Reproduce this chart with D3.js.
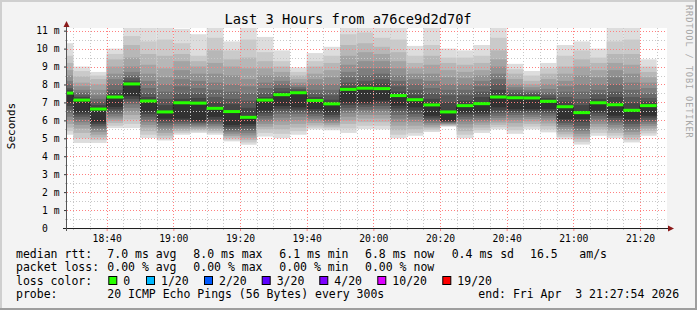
<!DOCTYPE html>
<html><head><meta charset="utf-8">
<script src="https://cdn.jsdelivr.net/npm/d3@7"></script>
<style>
body{margin:0;background:#f3f3f3;}
svg text{font-family:"DejaVu Sans Mono",monospace;white-space:pre;}
</style></head>
<body><svg id="c" width="697" height="310"></svg>
<script>
// ---- data ----
const stepEnds = ["18:30","18:35","18:40","18:45","18:50","18:55","19:00","19:05","19:10","19:15","19:20","19:25",
  "19:30","19:35","19:40","19:45","19:50","19:55","20:00","20:05","20:10","20:15","20:20","20:25",
  "20:30","20:35","20:40","20:45","20:50","20:55","21:00","21:05","21:10","21:15","21:20","21:25"];
const medians = [7.52,7.13,6.63,7.30,8.03,7.08,6.47,6.98,6.96,6.67,6.49,6.17,7.13,7.43,7.54,7.11,6.92,7.73,
  7.79,7.77,7.38,7.15,6.86,6.47,6.82,6.93,7.30,7.26,7.25,7.06,6.76,6.43,6.98,6.87,6.56,6.82];
// 20 sorted ping rtts (ms) per 5-minute step
const pings = [
 [5.2,5.4,5.6,5.8,6.0,6.2,6.4,6.6,6.8,7.0,7.52,7.7,7.8,8.0,8.2,8.5,8.8,9.2,9.6,10.3],
 [4.74,5.0,5.3,5.55,5.75,5.9,6.05,6.2,6.33,6.45,7.13,7.3,7.4,7.55,7.7,7.9,8.1,8.45,8.75,9.0],
 [4.74,4.9,5.05,5.2,5.35,5.5,5.6,5.7,5.8,5.9,6.63,6.85,7.0,7.2,7.4,7.7,8.0,8.3,8.5,8.7],
 [5.57,5.7,5.85,5.98,6.1,6.22,6.35,6.48,6.62,6.75,7.30,7.5,7.7,8.0,8.3,8.6,9.0,9.4,9.7,10.0],
 [5.57,5.8,6.05,6.3,6.5,6.7,6.9,7.05,7.2,7.35,8.03,8.2,8.35,8.5,8.7,9.0,9.5,10.2,10.7,11.5],
 [5.02,5.2,5.4,5.6,5.75,5.9,6.05,6.2,6.35,6.5,7.08,7.3,7.5,7.8,8.2,8.6,9.1,9.7,10.4,11.5],
 [4.88,5.0,5.15,5.3,5.45,5.6,5.72,5.85,5.98,6.1,6.47,6.85,7.2,7.6,8.0,8.4,8.9,9.6,10.5,11.5],
 [5.2,5.3,5.4,5.5,5.6,5.7,5.8,5.9,6.0,6.1,6.98,7.2,7.5,7.9,8.3,8.8,9.3,9.7,10.3,11.1],
 [5.3,5.38,5.46,5.54,5.62,5.7,5.78,5.86,5.93,6.0,6.96,7.25,7.5,7.8,8.2,8.6,9.0,9.3,9.6,10.8],
 [5.2,5.3,5.4,5.5,5.6,5.7,5.8,5.9,6.05,6.2,6.67,7.0,7.3,7.7,8.1,8.6,9.2,9.9,10.6,11.4],
 [4.83,4.93,5.03,5.13,5.23,5.33,5.43,5.53,5.64,5.75,6.49,6.9,7.2,7.6,8.0,8.5,9.0,9.4,9.9,10.4],
 [4.64,4.77,4.9,5.03,5.16,5.29,5.42,5.55,5.68,5.8,6.17,6.7,7.1,7.5,7.9,8.3,8.9,9.5,10.5,11.4],
 [5.1,5.3,5.5,5.65,5.8,5.95,6.1,6.25,6.4,6.55,7.13,7.3,7.5,7.8,8.1,8.5,8.9,9.3,9.8,10.65],
 [5.0,5.25,5.5,5.75,5.95,6.15,6.35,6.5,6.65,6.8,7.43,7.6,7.8,8.0,8.2,8.45,8.7,9.0,9.3,9.9],
 [5.2,5.4,5.6,5.8,6.0,6.2,6.35,6.48,6.6,6.73,7.54,7.65,7.75,7.85,7.95,8.1,8.3,8.5,8.7,8.95],
 [5.5,5.6,5.72,5.85,5.98,6.1,6.23,6.36,6.5,6.63,7.11,7.3,7.45,7.7,8.0,8.3,8.6,9.0,9.3,9.75],
 [5.45,5.55,5.65,5.75,5.85,5.95,6.05,6.17,6.3,6.45,6.92,7.15,7.4,7.7,8.0,8.4,8.8,9.2,9.6,10.1],
 [5.3,5.55,5.8,6.0,6.2,6.4,6.55,6.7,6.85,7.0,7.73,7.9,8.1,8.4,8.7,9.1,9.6,10.2,10.8,11.5],
 [5.52,5.7,5.9,6.1,6.3,6.45,6.6,6.75,6.88,7.0,7.79,8.0,8.2,8.5,8.9,9.3,9.8,10.3,10.9,11.5],
 [5.5,5.7,5.9,6.1,6.3,6.5,6.65,6.8,6.95,7.1,7.77,8.05,8.3,8.6,8.9,9.3,9.7,10.1,10.6,11.3],
 [5.0,5.2,5.45,5.7,5.9,6.1,6.3,6.5,6.66,6.82,7.38,7.6,7.9,8.2,8.5,8.9,9.3,9.8,10.5,11.4],
 [5.14,5.3,5.5,5.7,5.9,6.05,6.2,6.35,6.55,6.73,7.15,7.4,7.7,8.0,8.3,8.6,8.9,9.2,9.6,10.15],
 [5.35,5.45,5.55,5.65,5.75,5.85,5.95,6.05,6.15,6.26,6.86,7.2,7.5,7.8,8.2,8.6,9.1,9.6,10.2,11.3],
 [5.65,5.68,5.72,5.76,5.8,5.84,5.88,5.91,5.95,5.98,6.47,7.0,7.4,7.7,8.0,8.4,8.8,9.2,9.5,10.0],
 [5.0,5.2,5.4,5.6,5.78,5.94,6.08,6.2,6.33,6.45,6.82,7.1,7.4,7.7,8.0,8.35,8.7,9.1,9.5,9.9],
 [5.3,5.45,5.6,5.75,5.88,6.0,6.12,6.23,6.34,6.45,6.93,7.3,7.6,7.9,8.2,8.5,8.8,9.2,9.6,10.2],
 [5.5,5.62,5.75,5.88,6.0,6.13,6.26,6.4,6.56,6.73,7.30,7.7,8.0,8.3,8.6,9.0,9.4,9.9,10.6,11.5],
 [5.25,5.45,5.65,5.85,6.0,6.15,6.3,6.42,6.52,6.63,7.26,7.42,7.55,7.7,7.85,8.0,8.3,8.6,8.85,9.15],
 [5.5,5.65,5.8,5.95,6.08,6.2,6.32,6.43,6.53,6.63,7.25,7.4,7.5,7.6,7.7,7.85,8.0,8.2,8.5,8.75],
 [5.33,5.5,5.67,5.83,5.98,6.12,6.26,6.39,6.51,6.63,7.06,7.25,7.4,7.55,7.75,8.0,8.3,8.6,8.9,9.2],
 [4.94,5.08,5.22,5.36,5.5,5.63,5.75,5.86,5.97,6.08,6.76,7.05,7.3,7.6,7.9,8.2,8.6,9.0,9.6,10.2],
 [4.65,4.8,4.95,5.1,5.25,5.4,5.55,5.7,5.9,6.08,6.43,6.85,7.2,7.6,8.0,8.5,9.0,9.4,9.9,10.4],
 [5.14,5.3,5.48,5.65,5.8,5.95,6.1,6.25,6.4,6.54,6.98,7.2,7.45,7.7,8.0,8.4,8.8,9.2,9.5,10.0],
 [5.0,5.15,5.3,5.45,5.6,5.75,5.88,6.0,6.13,6.26,6.87,7.3,7.6,8.0,8.4,8.8,9.2,9.7,10.4,11.4],
 [4.77,4.9,5.05,5.2,5.35,5.5,5.65,5.8,5.94,6.08,6.56,6.95,7.3,7.7,8.1,8.6,9.1,9.7,10.5,11.4],
 [5.14,5.28,5.42,5.55,5.68,5.8,5.92,6.03,6.15,6.26,6.82,7.05,7.25,7.5,7.8,8.1,8.4,8.7,9.0,9.4]
];
const xTickLabels = ["18:40","19:00","19:20","19:40","20:00","20:20","20:40","21:00","21:20"];
const yTickValues = [0,1,2,3,4,5,6,7,8,9,10,11];
const smokeShades = ["#dddddd","#cacaca","#b7b7b7","#a4a4a4","#919191","#7e7e7e","#6b6b6b","#585858","#454545","#323232"];
const rttLegend = ["7.0 ms avg","8.0 ms max","6.1 ms min","6.8 ms now","0.4 ms sd","16.5","am/s"];
const lossLegend = ["0.00 % avg","0.00 % max","0.00 % min","0.00 % now"];
const lossLabels = ["0","1/20","2/20","3/20","4/20","10/20","19/20"];
const lossColors = ["#26ff00","#00b8ff","#0059ff","#5e00ff","#7e00ff","#dd00ff","#ff0000"];

// ---- layout ----
const W=697,H=310, L=67, R=667, T=28, B=228;
const svg = d3.select("#c");
const t = s => { const [h,m]=s.split(":").map(Number); return new Date(2026,3,3,h,m,0); };
const start = new Date(2026,3,3,18,28,6), end = new Date(2026,3,3,21,28,6);
const x = d3.scaleTime().domain([start,end]).range([L,R]);
const yMax = (B-T)/17.94;
const y = d3.scaleLinear().domain([0,yMax]).range([B,T]);

// background & frame
svg.append("rect").attr("width",W).attr("height",H).attr("fill","#f3f3f3");
svg.append("rect").attr("x",0).attr("y",0).attr("width",W).attr("height",2).attr("fill","#cfcfcf");
svg.append("rect").attr("x",0).attr("y",0).attr("width",2).attr("height",H).attr("fill","#cfcfcf");
svg.append("rect").attr("x",0).attr("y",H-2).attr("width",W).attr("height",2).attr("fill","#9e9e9e");
svg.append("rect").attr("x",W-2).attr("y",0).attr("width",2).attr("height",H).attr("fill","#9e9e9e");
svg.append("rect").attr("x",L).attr("y",T).attr("width",R-L).attr("height",B-T).attr("fill","#ffffff");

svg.append("defs").append("clipPath").attr("id","pc").append("rect")
  .attr("x",L).attr("y",T).attr("width",R-L).attr("height",B-T);

// smoke
const cols = stepEnds.map((s,i)=>{ const e=t(s); const b=new Date(e.getTime()-300000);
  return {x0:Math.max(x(b),L), x1:x(e), med:medians[i], p:pings[i]}; });
const gS = svg.append("g").attr("clip-path","url(#pc)");
cols.forEach(c=>{
  smokeShades.forEach((col,i)=>{
    const top=y(c.p[19-i]), bot=y(c.p[i]);
    gS.append("rect").attr("x",c.x0).attr("width",c.x1-c.x0)
      .attr("y",top).attr("height",bot-top).attr("fill",col);
  });
});

// grid
const gG = svg.append("g").attr("clip-path","url(#pc)");
const minorY = d3.range(0.5,yMax,1);
minorY.forEach(v=>gG.append("line").attr("x1",L).attr("x2",R).attr("y1",Math.round(y(v))+0.5).attr("y2",Math.round(y(v))+0.5)
  .attr("stroke","#c8c8c8").attr("stroke-dasharray","1,2"));
const minorX = d3.timeMinute.every(5).range(start,end).filter(d=>d.getMinutes()%20!==0);
minorX.forEach(d=>gG.append("line").attr("y1",T).attr("y2",B).attr("x1",Math.round(x(d))+0.5).attr("x2",Math.round(x(d))+0.5)
  .attr("stroke","#c8c8c8").attr("stroke-dasharray","1,2"));
yTickValues.filter(v=>v>0).forEach(v=>gG.append("line").attr("x1",L).attr("x2",R).attr("y1",Math.round(y(v))+0.5).attr("y2",Math.round(y(v))+0.5)
  .attr("stroke","#ff8080").attr("stroke-dasharray","1,2"));
xTickLabels.forEach(s=>gG.append("line").attr("y1",T).attr("y2",B).attr("x1",Math.round(x(t(s)))+0.5).attr("x2",Math.round(x(t(s)))+0.5)
  .attr("stroke","#ff8080").attr("stroke-dasharray","1,2"));

// median: dark step line then green loss-coloured band
const pts=[]; cols.forEach(c=>{pts.push([c.x0,y(c.med)]);pts.push([c.x1,y(c.med)]);});
svg.append("path").attr("d",d3.line()(pts)).attr("fill","none").attr("stroke","#202020").attr("stroke-width",1);
cols.forEach(c=>svg.append("rect").attr("x",c.x0).attr("width",c.x1-c.x0)
  .attr("y",y(c.med)-1.5).attr("height",3).attr("fill",lossColors[0]));

// axes
const yAxis = d3.axisLeft(y).tickValues(yTickValues).tickSize(3).tickPadding(4)
  .tickFormat(d=>d===0?"0  ":d+" m");
const gy = svg.append("g").attr("transform",`translate(${L},0)`).call(yAxis);
gy.select(".domain").remove();
gy.selectAll(".tick line").attr("stroke","#333");
gy.selectAll(".tick text").attr("font-family","DejaVu Sans Mono").attr("font-size",9.7).attr("fill","#000").attr("x",-7.5);
const xAxis = d3.axisBottom(x).tickValues(xTickLabels.map(t)).tickSize(3).tickPadding(4)
  .tickFormat(d3.timeFormat("%H:%M"));
const gx = svg.append("g").attr("transform",`translate(0,${B})`).call(xAxis);
gx.select(".domain").remove();
gx.selectAll(".tick line").attr("stroke","#ff8080");
gx.selectAll(".tick text").attr("font-family","DejaVu Sans Mono").attr("font-size",9.7).attr("fill","#000");
minorX.forEach(d=>svg.append("line").attr("x1",Math.round(x(d))+0.5).attr("x2",Math.round(x(d))+0.5).attr("y1",B).attr("y2",B+2).attr("stroke","#c0c0c0"));
minorY.forEach(v=>svg.append("line").attr("x1",L-2).attr("x2",L).attr("y1",Math.round(y(v))+0.5).attr("y2",Math.round(y(v))+0.5).attr("stroke","#c0c0c0"));

svg.append("line").attr("x1",L-4).attr("x2",R+2).attr("y1",B+0.5).attr("y2",B+0.5).attr("stroke","#202020");
svg.append("line").attr("x1",L-0.5).attr("x2",L-0.5).attr("y1",B+3).attr("y2",T-4).attr("stroke","#555");
svg.append("path").attr("d",`M${L-3.5},${T-1} L${L-0.5},${T-7} L${L+2.5},${T-1} Z`).attr("fill","#8b1a1a");
svg.append("path").attr("d",`M${R+1},${B-2.5} L${R+7},${B+0.5} L${R+1},${B+3.5} Z`).attr("fill","#8b1a1a");

// title & labels
svg.append("text").attr("x",348).attr("y",23.5).attr("text-anchor","middle").attr("font-size",13.7).text("Last 3 Hours from a76ce9d2d70f");
svg.append("text").attr("transform","translate(15,126) rotate(-90)").attr("text-anchor","middle").attr("font-size",11).text("Seconds");
svg.append("text").attr("transform","translate(685.5,5) rotate(90)").attr("font-size",8.6).attr("letter-spacing",0.9)
  .attr("fill","#a8a8a8").text("RRDTOOL / TOBI OETIKER");

// legend
const lf = 11.5;
const row = (yy, items) => items.forEach(([xx,s])=>svg.append("text").attr("x",xx).attr("y",yy).attr("font-size",lf).text(s));
const rttX=[107.3,193.3,279.3,365,451.7,530,579.3];
row(257.5,[[16,"median rtt:"]].concat(rttLegend.map((s,i)=>[rttX[i],s])));
row(271,[[16,"packet loss:"]].concat(lossLegend.map((s,i)=>[rttX[i],s])));
row(284.5,[[16,"loss color:"]]);
const boxX=[108.3,146,204,261.7,319.3,377.3,442.3];
lossLabels.forEach((s,i)=>{
  svg.append("rect").attr("x",boxX[i]+0.5).attr("y",276.5).attr("width",8).attr("height",8)
    .attr("fill",lossColors[i]).attr("stroke","#000").attr("stroke-width",1);
  svg.append("text").attr("x",boxX[i]+15).attr("y",284.5).attr("font-size",lf).text(s);
});
row(298,[[16,"probe:"],[107.3,"20 ICMP Echo Pings (56 Bytes) every 300s"],[478.3,"end: Fri Apr  3 21:27:54 2026"]]);
</script></body></html>
